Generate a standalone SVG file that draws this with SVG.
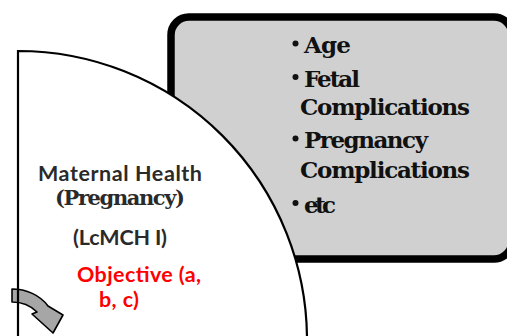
<svg xmlns="http://www.w3.org/2000/svg" width="507" height="336" viewBox="0 0 507 336">
  <style>
    .box { fill: #d0d0d0; stroke: #000; stroke-width: 7.5; }
    .pie { fill: #fff; stroke: none; }
    .pie-edge { fill: none; stroke: #000; stroke-width: 2.2; }
    .serif { font-family: "DejaVu Serif", "Liberation Serif", serif; font-weight: bold; }
    .sans { font-family: Lato, "Liberation Sans", sans-serif; font-weight: bold; }
    .item { font-size: 23px; fill: #111; }
    .dot { fill: #111; }
    .label { font-size: 21.5px; fill: #2a2a2a; }
    .label-serif { font-size: 21px; fill: #2a2a2a; }
    .accent { font-size: 21.5px; fill: #ff0000; }
    .curl { fill: #a6a6a6; stroke: #000; stroke-width: 1.6; stroke-linejoin: round; }
  </style>

  <!-- factor list box -->
  <g id="factors">
    <rect class="box" x="171" y="17" width="341" height="242" rx="18"/>
    <circle class="dot" cx="295.5" cy="43.5" r="3"/>
    <text class="serif item" x="304" y="53" textLength="47">Age</text>
    <circle class="dot" cx="295.5" cy="77" r="3"/>
    <text class="serif item" x="304" y="87" textLength="56">Fetal</text>
    <text class="serif item" x="300" y="115" textLength="170">Complications</text>
    <circle class="dot" cx="295.5" cy="138.5" r="3"/>
    <text class="serif item" x="304" y="148" textLength="124">Pregnancy</text>
    <text class="serif item" x="300" y="178" textLength="170">Complications</text>
    <circle class="dot" cx="295.5" cy="203" r="3"/>
    <text class="serif item" x="304" y="213" textLength="32">etc</text>
  </g>

  <!-- quarter-circle segment -->
  <g id="maternal-health">
    <path class="pie" d="M18,340 L18,51 A289,289 0 0 1 307,340 Z"/>
    <text class="sans label" x="38" y="181" textLength="164">Maternal Health</text>
    <text class="serif label-serif" x="55" y="205" textLength="130">(Pregnancy)</text>
    <text class="sans label" x="73" y="245" textLength="94">(LcMCH I)</text>
    <text class="sans accent" x="77" y="282" textLength="124">Objective (a,</text>
    <text class="sans accent" x="99" y="307" textLength="40">b, c)</text>
  </g>

  <!-- curved arrow -->
  <g id="connectors">
    <path class="curl" d="M12,289 C26,289 40,295 48,306 L63,315 L53,333 L32,314 L37,312 C30,305 22,302 12,302 Z"/>
  </g>

  <path class="pie-edge" d="M18,340 L18,51 A289,289 0 0 1 307,340"/>
</svg>
